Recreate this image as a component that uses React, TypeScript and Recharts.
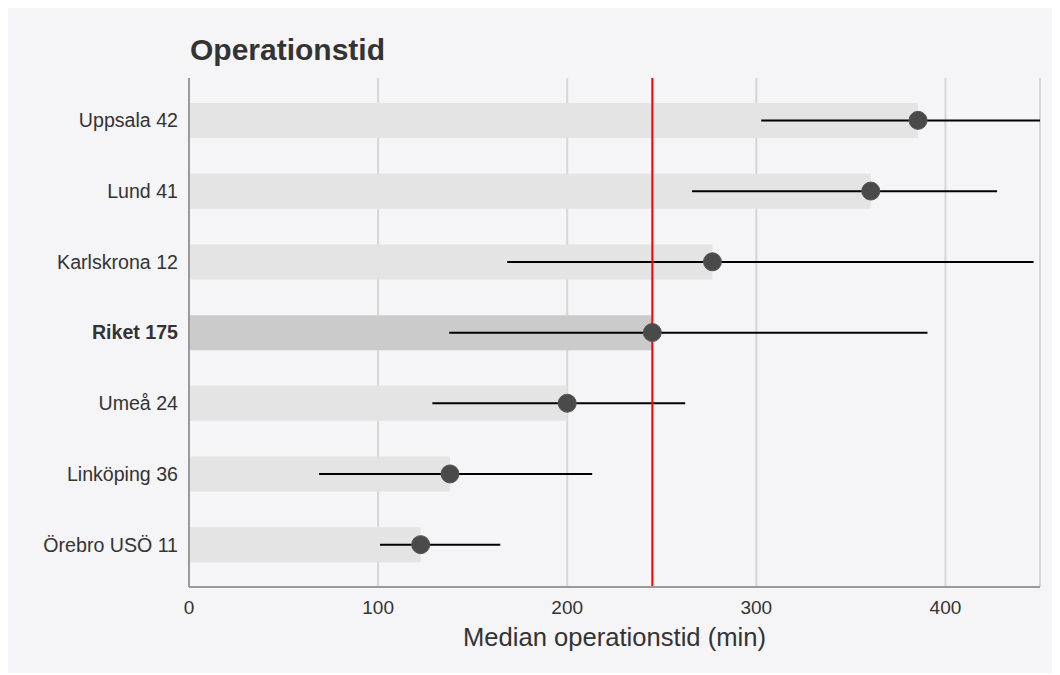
import React from 'react';
import {
  ComposedChart,
  Bar,
  Line,
  XAxis,
  YAxis,
  CartesianGrid,
  ReferenceLine,
  ErrorBar,
  Cell,
  Label,
} from 'recharts';

const categories = ['Uppsala 42', 'Lund 41', 'Karlskrona 12', 'Riket 175', 'Umeå 24', 'Linköping 36', 'Örebro USÖ 11'];
const medians = [385.5, 360.5, 276.8, 245, 200, 138, 122.5];
const lows = [302.6, 266, 168.3, 137.6, 128.7, 68.8, 101];
const highs = [450, 427.3, 446.6, 390.5, 262.4, 213.2, 164.6];
const xTicks = [0, 100, 200, 300, 400];
const nationalMedian = 245;
const highlight = 'Riket 175';

const data = categories.map((name, i) => ({
  name,
  median: medians[i],
  err: [medians[i] - lows[i], highs[i] - medians[i]],
}));

const FONT = '"Liberation Sans", Arial, sans-serif';

const YTick = (props: any) => {
  const { x, y, payload } = props;
  const bold = payload.value === highlight;
  return (
    <text
      x={x}
      y={y}
      dy="0.35em"
      textAnchor="end"
      fontFamily={FONT}
      fontSize={19.6}
      fontWeight={bold ? 700 : 400}
      fill="#333333"
    >
      {payload.value}
    </text>
  );
};

export default function App() {
  return (
    <div
      style={{
        position: 'relative',
        left: -1,
        top: -2,
        width: 1046,
        height: 667,
        background: '#f5f4f7',
        fontFamily: FONT,
      }}
    >
      <div
        style={{
          position: 'absolute',
          left: 183,
          top: 29,
          fontSize: 30,
          fontWeight: 700,
          color: '#333333',
          fontFamily: FONT,
          lineHeight: 1,
        }}
      >
        Operationstid
      </div>
      <ComposedChart
        width={1046}
        height={667}
        data={data}
        layout="vertical"
        margin={{ top: 72, right: 13, bottom: 26, left: 12 }}
      >
        <CartesianGrid horizontal={false} vertical={true} stroke="#d6d6d6" strokeWidth={2} />
        <XAxis
          type="number"
          domain={[0, 450]}
          ticks={xTicks}
          allowDataOverflow
          tickLine={false}
          tickMargin={8}
          height={60}
          axisLine={{ stroke: '#9a9a9a', strokeWidth: 2 }}
          tick={{ fontFamily: FONT, fontSize: 19, fill: '#333333' }}
        >
          <Label
            value="Median operationstid (min)"
            position="insideBottom"
            offset={1}
            style={{ fontFamily: FONT, fontSize: 25.6, fill: '#333333' }}
          />
        </XAxis>
        <YAxis
          type="category"
          dataKey="name"
          width={170}
          tickLine={false}
          tickMargin={5}
          padding={{ top: 7, bottom: 7 }}
          axisLine={{ stroke: '#9a9a9a', strokeWidth: 2 }}
          tick={<YTick />}
          interval={0}
        />
        <Bar dataKey="median" barSize={35} isAnimationActive={false}>
          {data.map((d) => (
            <Cell key={d.name} fill={d.name === highlight ? '#cbcbcb' : '#e4e4e4'} />
          ))}
          <ErrorBar dataKey="err" direction="x" width={0} stroke="#000000" strokeWidth={2} />
        </Bar>
        <ReferenceLine x={nationalMedian} stroke="#ff0000" strokeWidth={2} />
        <Line
          dataKey="median"
          stroke="none"
          isAnimationActive={false}
          dot={{ r: 9, fill: '#4a4a4a', stroke: '#555555', strokeWidth: 1 }}
          activeDot={false}
        />
      </ComposedChart>
    </div>
  );
}
